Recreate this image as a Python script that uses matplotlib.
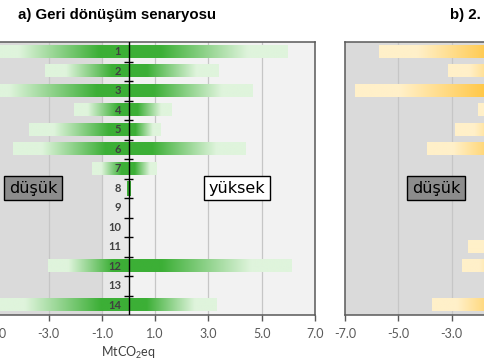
import numpy as np
import matplotlib
matplotlib.use("Agg")
import matplotlib.pyplot as plt
from matplotlib.colors import LinearSegmentedColormap

plt.rcParams['font.family'] = ['Lato', 'DejaVu Sans']
plt.rcParams['mathtext.fontset'] = 'custom'
plt.rcParams['mathtext.rm'] = 'Lato'

# categories 1..14, top to bottom
categories = [str(i) for i in range(1, 15)]

# a) recycling scenario: low (left) and high (right) ends, MtCO2eq
a_low = [-5.5, -3.15, -6.0, -2.04, -3.73, -4.35, -1.37, -0.07, 0, 0, 0, -3.03, 0, -5.2]
a_high = [5.96, 3.36, 4.64, 1.58, 1.17, 4.36, 1.03, 0.08, 0, 0, 0, 6.09, 0, 3.27]

# b) second scenario: only the low ends are visible
b_low = [-5.72, -3.13, -6.63, -2.0, -2.88, -3.92, -1.2, 0, 0, 0, -2.4, -2.59, 0, -3.72]

xticks = [-7, -5, -3, -1, 1, 3, 5, 7]


def fade_cmap(dark, light):
    return LinearSegmentedColormap.from_list('f', [(0, dark), (0.2, dark), (0.75, light), (1, light)])


green = fade_cmap('#3caf36', '#dff4dc')
amber = fade_cmap('#ffc236', '#fff0c9')


def grad_bar(ax, y, x0, cmap, h=0.64):
    # x0 is the far end, gradient runs from 0 (dark) to x0 (light)
    if x0 == 0:
        return
    t = np.linspace(0, 1, 256)
    if x0 < 0:
        t = t[::-1]
    ext = (min(0, x0), max(0, x0), y + h / 2, y - h / 2)
    ax.imshow(t[None, :], cmap=cmap, vmin=0, vmax=1, extent=ext,
              aspect='auto', interpolation='bilinear', zorder=3)


def setup(ax, left_shade):
    ax.set_xlim(-7, 7)
    ax.set_ylim(13.5, -0.5)
    ax.axvspan(-7, left_shade, color='#dadada', zorder=0.5, lw=0)
    if left_shade < 0:
        ax.axvspan(left_shade, 0, color='#e8e8e8', zorder=0.5, lw=0)
    ax.axvspan(0, 7, color='#f2f2f2', zorder=0.5, lw=0)
    for x in xticks[1:-1]:
        ax.axvline(x, color='#c6c6c6', lw=0.9, zorder=1)
    ax.set_yticks([])
    ax.set_xticks(xticks)
    ax.set_xticklabels([f'{x:.1f}' for x in xticks])
    ax.tick_params(axis='x', direction='out', length=4, width=1,
                   color='#595959', labelcolor='#595959', labelsize=9, pad=5)
    for s in ax.spines.values():
        s.set_color('#595959')
        s.set_linewidth(1.1)


def label_box(ax, x, y, text, fc):
    ax.text(x, y, text, ha='center', va='center', fontsize=11.5,
            family='DejaVu Sans', color='black', zorder=6,
            bbox=dict(boxstyle='square,pad=0.28', fc=fc, ec='black', lw=1))


fig = plt.figure(figsize=(4.85, 3.6), dpi=100)
bottom = 45 / 360
height = 273 / 360
ax1 = fig.add_axes([-58 / 485, bottom, 373 / 485, height])
ax2 = fig.add_axes([345 / 485, bottom, 373 / 485, height])

# panel a
setup(ax1, -1)
for i in range(len(categories)):
    if a_low[i] > -0.1 and a_high[i] < 0.1 and (a_low[i] != 0 or a_high[i] != 0):
        ax1.barh(i, a_high[i] - a_low[i], left=a_low[i], height=0.75,
                 color='#3caf36', zorder=3)
        continue
    grad_bar(ax1, i, a_low[i], green)
    grad_bar(ax1, i, a_high[i], green)
ax1.axvline(0, color='black', lw=1, zorder=4)
ax1.hlines(np.arange(0.5, 13.5), -0.17, 0.17, color='black', lw=1, zorder=4)
for i, c in enumerate(categories):
    ax1.text(-0.28, i, c, ha='right', va='center', fontsize=8,
             fontweight='bold', color='#404040', zorder=5)
ax1.set_xlabel('MtCO$_\\mathregular{2}$eq', fontsize=9, color='#404040', labelpad=4)
label_box(ax1, -3.58, 7, 'düşük', '#8c8c8c')
label_box(ax1, 4.08, 7, 'yüksek', 'white')
ax1.set_xlim(-7, 7)
ax1.set_ylim(13.5, -0.5)

# panel b
setup(ax2, 0)
for i in range(len(categories)):
    grad_bar(ax2, i, b_low[i], amber)
ax2.axvline(0, color='black', lw=1, zorder=4)
label_box(ax2, -3.59, 7, 'düşük', '#8c8c8c')
ax2.set_xlim(-7, 7)
ax2.set_ylim(13.5, -0.5)

fig.text(18 / 485, 1 - 15 / 360, 'a) Geri dönüşüm senaryosu', ha='left', va='center',
         fontsize=10.8, fontweight='bold', family='Liberation Sans')
fig.text(450 / 485, 1 - 15 / 360, 'b) 2.', ha='left', va='center',
         fontsize=10.8, fontweight='bold', family='Liberation Sans')

fig.savefig('out.png', dpi=100)
